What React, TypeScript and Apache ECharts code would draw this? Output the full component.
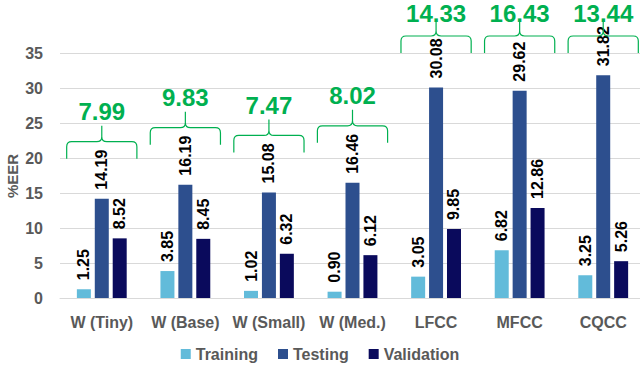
import React, { useEffect, useRef } from "react";
import * as echarts from "echarts";

const categories = ["W (Tiny)", "W (Base)", "W (Small)", "W (Med.)", "LFCC", "MFCC", "CQCC"];
const training = [1.25, 3.85, 1.02, 0.9, 3.05, 6.82, 3.25];
const testing = [14.19, 16.19, 15.08, 16.46, 30.08, 29.62, 31.82];
const validation = [8.52, 8.45, 6.32, 6.12, 9.85, 12.86, 5.26];
const averages = [7.99, 9.83, 7.47, 8.02, 14.33, 16.43, 13.44];
const yTicks = { min: 0, max: 35, interval: 5 };
const yAxisTitle = "%EER";

const GREEN = "#00B050";
const GRAY = "#595959";

export default function App() {
  const ref = useRef<HTMLDivElement>(null);
  useEffect(() => {
    if (!ref.current) return;
    const chart = echarts.init(ref.current, undefined, { renderer: "svg" });
    const labelCfg = {
      show: true,
      position: "top",
      rotate: 90,
      align: "left",
      verticalAlign: "middle",
      distance: 9,
      color: "#000",
      fontFamily: "Liberation Sans",
      fontWeight: "bold",
      fontSize: 16,
      formatter: (p: any) => Number(p.value).toFixed(2),
    };
    const barBase = { type: "bar", barWidth: 14, barGap: "28%", label: labelCfg };
    chart.setOption({
      animation: false,
      textStyle: { fontFamily: "Liberation Sans" },
      grid: { left: 60, width: 585, top: 53, bottom: 72, outerBoundsMode: "none", containLabel: false },
      graphic: [
        {
          type: "text",
          x: 12,
          y: 176,
          rotation: Math.PI / 2,
          style: {
            text: yAxisTitle,
            fill: GRAY,
            font: "bold 15px 'Liberation Sans'",
            textAlign: "center",
            textVerticalAlign: "middle",
          },
        },
      ],
      legend: {
        bottom: 3,
        left: "center",
        itemWidth: 10,
        itemHeight: 10,
        itemGap: 20,
        icon: "rect",
        data: ["Training", "Testing", "Validation"],
        textStyle: { color: GRAY, fontSize: 16, fontWeight: "bold", fontFamily: "Liberation Sans" },
      },
      xAxis: {
        type: "category",
        data: categories,
        axisTick: { show: false },
        axisLine: { lineStyle: { color: "#d9d9d9" } },
        axisLabel: { color: GRAY, fontSize: 16, fontWeight: "bold", margin: 16, interval: 0 },
      },
      yAxis: {
        type: "value",
        min: yTicks.min,
        max: yTicks.max,
        interval: yTicks.interval,
        axisLine: { show: false },
        axisTick: { show: false },
        axisLabel: { color: GRAY, fontSize: 16, fontWeight: "bold", margin: 17 },
        splitLine: { lineStyle: { color: "#d9d9d9", width: 1 } },
      },
      series: [
        { ...barBase, name: "Training", data: training, itemStyle: { color: "#62BBDA" } },
        { ...barBase, name: "Testing", data: testing, itemStyle: { color: "#2D4F8E" } },
        { ...barBase, name: "Validation", data: validation, itemStyle: { color: "#0A0A5C" } },
        {
          type: "custom",
          name: "avg",
          clip: false,
          z: 10,
          silent: true,
          encode: { x: 0, y: 1 },
          data: testing.map((t, i) => [i, t, averages[i]]),
          renderItem: (params: any, api: any) => {
            const pt = api.coord([api.value(0), api.value(1)]);
            const topY = api.coord([api.value(0), yTicks.max])[1];
            const band = api.size([1, 0])[0];
            const c = pt[0];
            const half = band * 0.42;
            const l = c - half;
            const r = c + half;
            const yb = Math.max(topY, pt[1] - 40);
            const yh = yb - 17;
            const yt = yh - 16;
            const k = 5;
            const d =
              `M${l} ${yb} L${l} ${yh + k} Q${l} ${yh} ${l + k} ${yh} L${c - k} ${yh} Q${c} ${yh} ${c} ${yh - k} L${c} ${yt} ` +
              `M${c} ${yh - k} Q${c} ${yh} ${c + k} ${yh} L${r - k} ${yh} Q${r} ${yh} ${r} ${yh + k} L${r} ${yb}`;
            return {
              type: "group",
              children: [
                {
                  type: "path",
                  shape: { pathData: d },
                  style: { fill: "none", stroke: GREEN, lineWidth: 1.2 },
                },
                {
                  type: "text",
                  x: c,
                  y: Math.max(yt - 2, 25),
                  style: {
                    text: Number(api.value(2)).toFixed(2),
                    fill: GREEN,
                    font: "bold 24px 'Liberation Sans'",
                    textAlign: "center",
                    textVerticalAlign: "bottom",
                  },
                },
              ],
            };
          },
        },
      ],
    });
    return () => chart.dispose();
  }, []);
  return (
    <div
      ref={ref}
      style={{ position: "absolute", left: 0, top: 0, width: 640, height: 370, overflow: "hidden" }}
    />
  );
}
